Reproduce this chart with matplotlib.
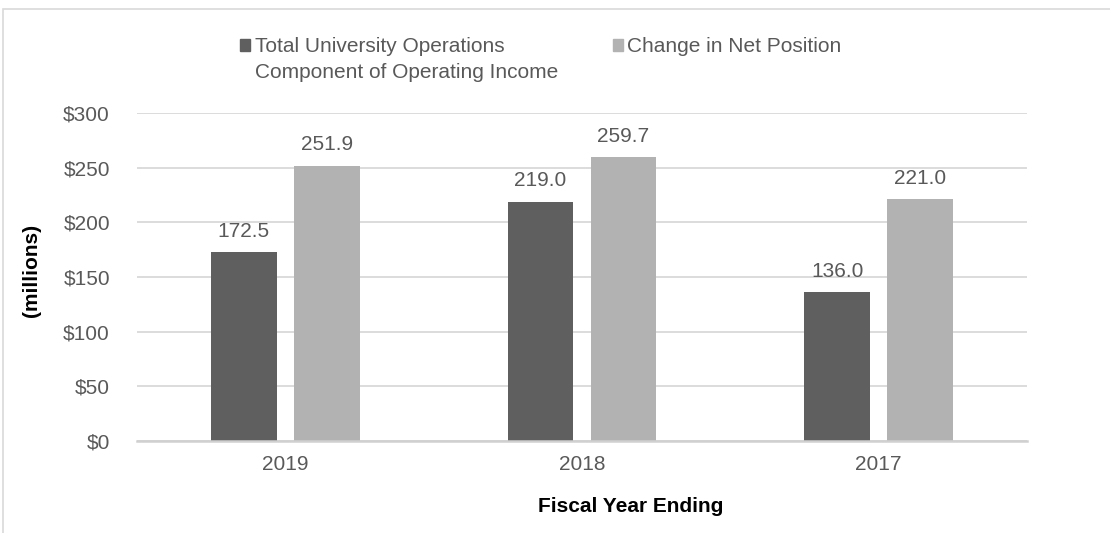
import matplotlib.pyplot as plt
import numpy as np
from matplotlib.patches import Patch, Rectangle

# chart values
years = ['2019', '2018', '2017']
operations = [172.5, 219.0, 136.0]
net_position = [251.9, 259.7, 221.0]
yticks = [0, 50, 100, 150, 200, 250, 300]
legend_labels = ['Total University Operations', 'Change in Net Position']
legend_second_line = 'Component of Operating Income'

plt.rcParams['font.family'] = ['Liberation Sans', 'DejaVu Sans']
text_color = '#595959'
dark = '#5f5f5f'
light = '#b2b2b2'
W, H = 1110, 533

fig = plt.figure(figsize=(W / 100, H / 100), dpi=100)
# light frame round the chart area
fig.patches.append(Rectangle((3 / W, -0.1), 1.2, 1 - 9 / H + 0.1, transform=fig.transFigure,
                             fill=False, edgecolor='#d9d9d9', linewidth=1.2))
ax = fig.add_axes([137 / W, 1 - 441 / H, 890 / W, 328 / H])

x = np.arange(len(years))
w = 0.222
off = 0.14
b1 = ax.bar(x - off, operations, w, color=dark, zorder=3)
b2 = ax.bar(x + off, net_position, w, color=light, zorder=3)
for bars in (b1, b2):
    ax.bar_label(bars, fmt='%.1f', padding=8, fontsize=15, color=text_color)

ax.set_xlim(-0.5, 2.5)
ax.set_ylim(0, 300)
ax.set_yticks(yticks)
ax.set_yticklabels(['$' + str(v) for v in yticks])
ax.set_xticks(x)
ax.set_xticklabels(years)
ax.tick_params(axis='both', length=0, labelsize=15, labelcolor=text_color)
ax.tick_params(axis='y', pad=19.5)
ax.tick_params(axis='x', pad=10)
ax.grid(axis='y', color='#d9d9d9', linewidth=1.3, zorder=0)
for s in ['top', 'right', 'left']:
    ax.spines[s].set_visible(False)
ax.spines['bottom'].set_color('#d0d0d0')
ax.spines['bottom'].set_linewidth(1.8)
ax.spines['bottom'].set_zorder(4)

ax.set_xlabel('Fiscal Year Ending', fontsize=15, fontweight='bold', color='black')
ax.xaxis.set_label_coords((631 - 137) / 890, -(507 - 441) / 328)
ax.xaxis.label.set_va('center')
ax.set_ylabel('(millions)', fontsize=15, fontweight='bold', color='black')
ax.yaxis.set_label_coords(-(137 - 32) / 890, (441 - 270) / 328)
ax.yaxis.label.set_va('center')

# Add legend (second line of the first entry added under its text)
handles = [Patch(color=dark), Patch(color=light)]
leg = fig.legend(handles, legend_labels, ncol=2, loc='center left', bbox_to_anchor=(240 / W, 1 - 47 / H),
                 frameon=False, fontsize=15, handlelength=0.5, handleheight=0.5,
                 handletextpad=0.2, columnspacing=5.2, borderaxespad=0, borderpad=0)
for t in leg.get_texts():
    t.set_color(text_color)
fig.canvas.draw()
bb = leg.get_texts()[0].get_window_extent()
fig.text(bb.x0 / W, ((bb.y0 + bb.y1) / 2 - 25) / H, legend_second_line, fontsize=15,
         color=text_color, ha='left', va='center')

plt.savefig('out.png', dpi=100)
